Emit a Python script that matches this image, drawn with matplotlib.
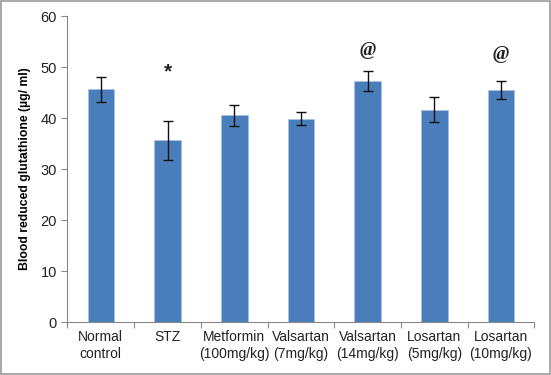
import numpy as np
import matplotlib
matplotlib.use('Agg')
import matplotlib.pyplot as plt

categories = ['Normal\ncontrol', 'STZ', 'Metformin\n(100mg/kg)', 'Valsartan\n(7mg/kg)',
              'Valsartan\n(14mg/kg)', 'Losartan\n(5mg/kg)', 'Losartan\n(10mg/kg)']
values = [45.6, 35.6, 40.5, 39.9, 47.2, 41.6, 45.5]
errors = [2.5, 3.9, 2.0, 1.35, 1.95, 2.45, 1.8]
marks = ['', '*', '', '', '@', '', '@']
mark_y = [0, 49.7, 0, 0, 53.3, 0, 52.5]

plt.rcParams['font.family'] = ['Liberation Sans', 'DejaVu Sans']

fig = plt.figure(figsize=(5.51, 3.75), dpi=100)
ax = fig.add_axes([0.1225, 0.1413, 0.8472, 0.816])

x = np.arange(len(categories))
ax.bar(x, values, width=0.4, color='#4a7ebb', edgecolor='#a9c1e0', linewidth=0.6, zorder=2)
ax.errorbar(x, values, yerr=errors, fmt='none', ecolor='#111111', elinewidth=1,
            capsize=3.5, capthick=1, zorder=3)

for xi, m, my in zip(x, marks, mark_y):
    if m == '*':
        ax.text(xi, my - 0.6, m, ha='center', va='center', fontsize=15, color='#222222',
                fontweight='bold')
    elif m:
        ax.text(xi, my, m, ha='center', va='center', fontsize=14, color='#222222',
                family='Liberation Serif', style='italic', fontweight='bold')

ax.set_xlim(-0.5, len(categories) - 0.5)
ax.set_ylim(0, 60)
ax.set_yticks(range(0, 61, 10))
ax.set_xticks(np.arange(-0.5, len(categories), 1.0))
ax.set_xticklabels([])
ax.set_xticks(x, minor=True)
ax.set_xticklabels(categories, minor=True, fontsize=10, color='#222222')
ax.tick_params(axis='x', which='minor', length=0, pad=6)
ax.tick_params(axis='x', which='major', length=4, color='#888888', direction='out')
ax.tick_params(axis='y', length=4, color='#888888', labelsize=10.5, labelcolor='#222222')

for s in ['top', 'right']:
    ax.spines[s].set_visible(False)
for s in ['left', 'bottom']:
    ax.spines[s].set_color('#888888')
    ax.spines[s].set_linewidth(0.8)

ax.set_ylabel('Blood reduced glutathione (\u00b5g/ ml)', fontsize=8.8, fontweight='bold',
              labelpad=7)

fig.patches.append(plt.Rectangle((0.002, 0.003), 0.996, 0.994, transform=fig.transFigure,
                                 fill=False, edgecolor='#999999', linewidth=1.2))

fig.savefig('out.png', dpi=100)
